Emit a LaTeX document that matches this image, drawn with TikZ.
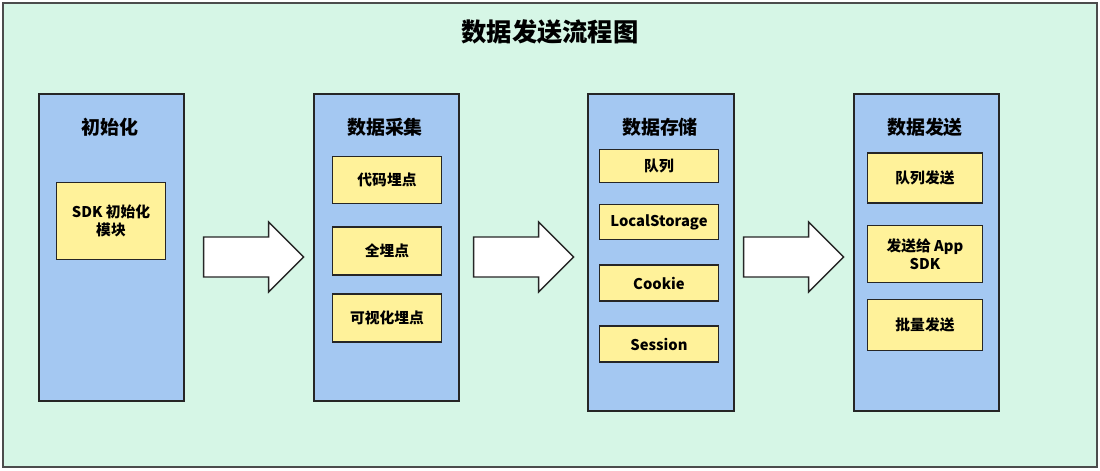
\documentclass[tikz,border=0pt]{standalone}
\usepackage{fontspec}
\setmainfont{Noto Sans CJK SC}
\usetikzlibrary{positioning}

\begin{document}
\begin{tikzpicture}[x=0.025cm, y=-0.025cm, font=\bfseries\fontsize{10.5}{12.5}\selectfont,
  column/.style={
    draw=black!85,
    line width=1.2pt,
    fill=colblue,
    rectangle,
    anchor=north west,
    inner sep=0pt
  },
  item/.style={
    draw=black!85,
    line width=1pt,
    fill=itemyellow,
    rectangle,
    align=center,
    inner sep=0pt
  },
  head/.style={font=\bfseries\fontsize{13.5}{15}\selectfont},
  flow/.style={draw=black!85, line width=1pt, fill=white, line join=miter}
  ]
\definecolor{colblue}{HTML}{A4C8F2}
\definecolor{itemyellow}{HTML}{FFF29A}
\definecolor{bgmint}{HTML}{D6F6E6}

% Background
\draw[fill=bgmint, draw=black!70, line width=0.8pt] (3,3) rectangle (1097,467);
\useasboundingbox (0,0) rectangle (1100,470);
\node[font=\bfseries\fontsize{18}{20}\selectfont] (title) at (550,32) {数据发送流程图};

% Columns
\node[column, minimum width=145*0.025cm, minimum height=307*0.025cm] (init) at (38,93) {};
\node[column, minimum width=145*0.025cm, minimum height=307*0.025cm] (collect) at (313,93) {};
\node[column, minimum width=146*0.025cm, minimum height=317*0.025cm] (store) at (587,93) {};
\node[column, minimum width=145*0.025cm, minimum height=317*0.025cm] (send) at (853,93) {};

% Column headings
\node[head] (init_h) at (110,127) {初始化};
\node[head] (collect_h) at (385,127) {数据采集};
\node[head] (store_h) at (660,127) {数据存储};
\node[head] (send_h) at (925,127) {数据发送};

% Items
\node[item, minimum width=109*0.025cm, minimum height=77*0.025cm] (sdk) at (111,221) {SDK 初始化\\模块};

\node[item, minimum width=109*0.025cm, minimum height=47*0.025cm] (code) at (387,180) {代码埋点};
\node[item, minimum width=109*0.025cm, minimum height=48*0.025cm] (full) at (387,251) {全埋点};
\node[item, minimum width=109*0.025cm, minimum height=48*0.025cm] (visual) at (387,318) {可视化埋点};

\node[item, minimum width=119*0.025cm, minimum height=33*0.025cm] (queue) at (659,166) {队列};
\node[item, minimum width=119*0.025cm, minimum height=35*0.025cm] (local) at (659,222) {LocalStorage};
\node[item, minimum width=119*0.025cm, minimum height=36*0.025cm] (cookie) at (659,283) {Cookie};
\node[item, minimum width=119*0.025cm, minimum height=36*0.025cm] (session) at (659,344) {Session};

\node[item, minimum width=115*0.025cm, minimum height=50*0.025cm] (qsend) at (925,178) {队列发送};
\node[item, minimum width=115*0.025cm, minimum height=57*0.025cm] (app) at (925,254) {发送给 App\\SDK};
\node[item, minimum width=115*0.025cm, minimum height=51*0.025cm] (batch) at (925,325) {批量发送};

% Arrows
\foreach \from/\gap in {init/19, collect/14, store/9} {
  \coordinate (\from_tail) at ([xshift=\gap*0.025cm]\from.east |- 0,257);
  \draw[flow] (\from_tail) -- ++(0,-20) -- ++(65,0) -- ++(0,-15) -- ++(35,35)
    -- ++(-35,35) -- ++(0,-15) -- ++(-65,0) -- cycle;
}

\end{tikzpicture}
\end{document}
